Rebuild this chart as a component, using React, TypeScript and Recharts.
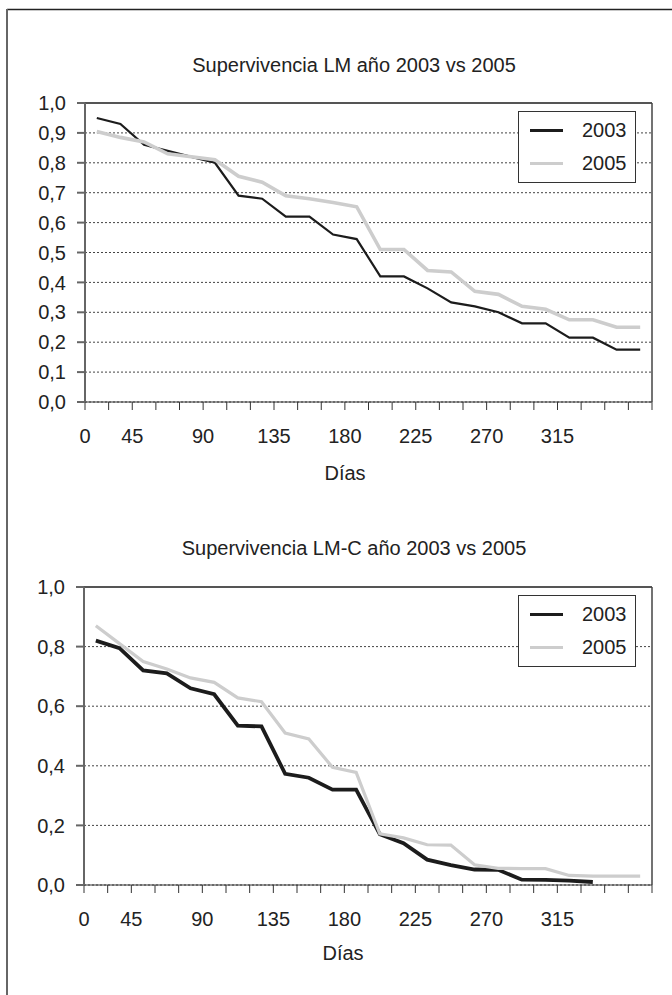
import {
  CartesianGrid,
  Legend,
  Line,
  LineChart,
  ReferenceLine,
  XAxis,
  YAxis,
} from "recharts";

const FONT = "'Liberation Sans', Arial, sans-serif";
const FS = 20;
const INK = "#222";

// day-interval tick labels (25 boundaries, 24 intervals)
const X_TICK_LABELS = [
  "0", "", "45", "", "", "90", "", "", "135", "", "", "180", "", "",
  "225", "", "", "270", "", "", "315", "", "", "", "",
];
const X_TICKS = X_TICK_LABELS.map((_, i) => i);

const Y_TICKS_LM = [0, 0.1, 0.2, 0.3, 0.4, 0.5, 0.6, 0.7, 0.8, 0.9, 1];
const Y_TICKS_LMC = [0, 0.2, 0.4, 0.6, 0.8, 1];

const SERIES = ["2003", "2005"];

const LM_2003 = [
  0.95, 0.93, 0.86, 0.84, 0.82, 0.8, 0.69, 0.68, 0.62, 0.62, 0.56, 0.545,
  0.42, 0.42, 0.38, 0.333, 0.32, 0.3, 0.263, 0.263, 0.215, 0.215, 0.175, 0.175,
];
const LM_2005 = [
  0.905, 0.885, 0.87, 0.83, 0.82, 0.81, 0.755, 0.735, 0.69, 0.68, 0.667, 0.653,
  0.51, 0.51, 0.44, 0.435, 0.37, 0.36, 0.32, 0.31, 0.275, 0.275, 0.25, 0.25,
];
const LMC_2003 = [
  0.82, 0.795, 0.72, 0.71, 0.66, 0.64, 0.535, 0.532, 0.373, 0.36, 0.32, 0.32,
  0.17, 0.14, 0.085, 0.067, 0.052, 0.051, 0.018, 0.017, 0.015, 0.01,
];
const LMC_2005 = [
  0.87, 0.81, 0.75, 0.725, 0.695, 0.68, 0.628, 0.615, 0.51, 0.49, 0.395, 0.378,
  0.172, 0.158, 0.135, 0.134, 0.068, 0.056, 0.055, 0.055, 0.032, 0.03, 0.03, 0.03,
];

const rows = (a: number[], b: number[]) =>
  Array.from({ length: Math.max(a.length, b.length) }, (_, i) => ({
    pos: i + 0.5,
    [SERIES[0]]: a[i],
    [SERIES[1]]: b[i],
  }));

const fmtY = (v: number) => v.toFixed(1).replace(".", ",");

function LegendBox({ payload }: any) {
  return (
    <div
      style={{
        boxSizing: "border-box",
        width: 118,
        height: 72,
        border: "1px solid #333",
        background: "#fff",
        fontFamily: FONT,
        fontSize: FS,
        color: INK,
        position: "relative",
      }}
    >
      {(payload || []).map((p: any, i: number) => (
        <div
          key={p.value}
          style={{ position: "absolute", left: 11, top: 4 + i * 33, height: 28, display: "flex", alignItems: "center" }}
        >
          <span style={{ display: "inline-block", width: 33, height: 3, background: p.color }} />
          <span style={{ marginLeft: 19 }}>{p.value}</span>
        </div>
      ))}
    </div>
  );
}

function Panel({
  data,
  yTicks,
  height,
  top,
  left,
  plotH,
  w2003,
  w2005,
}: {
  data: any[];
  yTicks: number[];
  height: number;
  top: number;
  left: number;
  plotH: number;
  w2003: number;
  w2005: number;
}) {
  const xAxisH = 60;
  return (
    <LineChart
      width={672}
      height={height}
      data={data}
      margin={{ top, right: 20, left: 0, bottom: height - top - plotH - xAxisH }}
    >
      <CartesianGrid horizontal vertical={false} stroke="#444" strokeDasharray="2 2" />
      <XAxis
        type="number"
        dataKey="pos"
        domain={[0, 24]}
        ticks={X_TICKS}
        interval={0}
        tickFormatter={(i: number) => X_TICK_LABELS[i]}
        height={xAxisH}
        tickSize={8}
        tickMargin={19}
        stroke="#333"
        tick={{ fill: INK, fontSize: FS, fontFamily: FONT }}
      />
      <YAxis
        type="number"
        domain={[0, 1]}
        ticks={yTicks}
        interval={0}
        width={left}
        tickFormatter={fmtY}
        tickSize={8}
        tickMargin={11}
        stroke="#666"
        strokeWidth={2}
        tick={{ fill: INK, fontSize: FS, fontFamily: FONT }}
      />
      <ReferenceLine y={1} stroke="#555" strokeWidth={2} />
      <ReferenceLine x={24} stroke="#444" strokeWidth={1.5} />
      <Line
        type="linear"
        dataKey={SERIES[0]}
        stroke="#1c1c1c"
        strokeWidth={w2003}
        dot={false}
        isAnimationActive={false}
      />
      <Line
        type="linear"
        dataKey={SERIES[1]}
        stroke="#cdcdcd"
        strokeWidth={w2005}
        dot={false}
        isAnimationActive={false}
      />
      <Legend
        layout="vertical"
        align="center"
        verticalAlign="middle"
        content={<LegendBox />}
        wrapperStyle={{ left: 518, top: top + 8, width: 118, height: 72 }}
      />
    </LineChart>
  );
}

export default function App() {
  const textStyle = { fontFamily: FONT, fontSize: FS, fill: INK };
  return (
    <div style={{ position: "absolute", left: 0, top: 0, width: 672, height: 995, background: "#fff" }}>
      <div style={{ position: "absolute", left: 0, top: 0 }}>
        <Panel data={rows(LM_2003, LM_2005)} yTicks={Y_TICKS_LM} height={490} top={103} left={85} plotH={299} w2003={2.2} w2005={3.6} />
      </div>
      <div style={{ position: "absolute", left: 0, top: 490 }}>
        <Panel data={rows(LMC_2003, LMC_2005)} yTicks={Y_TICKS_LMC} height={505} top={97} left={84} plotH={298} w2003={3.8} w2005={3.2} />
      </div>
      <svg width={672} height={995} style={{ position: "absolute", left: 0, top: 0, pointerEvents: "none" }}>
        <line x1={7} y1={9.5} x2={672} y2={9.5} stroke="#222" strokeWidth={1.5} />
        <line x1={7} y1={9} x2={7} y2={995} stroke="#666" strokeWidth={2} />
        <text x={354} y={72} textAnchor="middle" style={textStyle}>
          Supervivencia LM año 2003 vs 2005
        </text>
        <text x={345} y={480} textAnchor="middle" style={textStyle}>
          Días
        </text>
        <text x={354} y={555} textAnchor="middle" style={textStyle}>
          Supervivencia LM-C año 2003 vs 2005
        </text>
        <text x={343} y={960} textAnchor="middle" style={textStyle}>
          Días
        </text>
      </svg>
    </div>
  );
}
